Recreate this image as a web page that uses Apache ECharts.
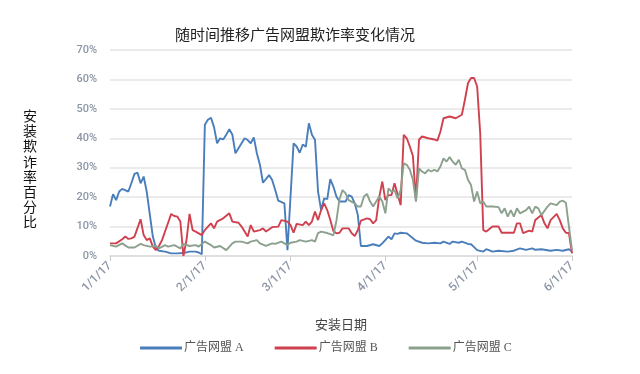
<!DOCTYPE html>
<html><head><meta charset="utf-8">
<script src="https://cdn.jsdelivr.net/npm/echarts@6/dist/echarts.min.js"></script>
<style>html,body{margin:0;padding:0;background:#fff}#c{width:640px;height:374px}</style>
</head><body><div id="c"></div>
<script>
const seriesNames = ['广告网盟 A', '广告网盟 B', '广告网盟 C'];
const yTicks = [0, 10, 20, 30, 40, 50, 60, 70];
const daysA = [0,1,2,3,4,6,7,8,9,10,11,12,14,15,16,18,20,22,24,26,28,29,30,31,32,33,34,35,36,37,38,39,40,41,43,44,45,46,47,48,49,50,52,53,54,55,57,58,60,61,62,63,64,65,66,67,68,69,70,71,72,73,74,75,77,78,79,80,81,82,84,86,88,89,91,92,93,94,95,97,99,100,102,104,106,108,109,111,112,114,115,117,118,119,120,122,123,125,127,130,132,134,136,138,139,141,144,146,148,150,151];
const valsA = [16.8,21,19,21.9,22.8,21.9,24.8,27.9,28.3,24.7,27,21.9,6.6,2.7,1.8,1.5,0.9,0.9,1.0,1.5,1.5,1.2,0.6,44.6,46.3,47,43.8,38.3,40,39.6,41.2,43.1,41.2,34.9,38.3,40,39.4,38.3,40.3,34.9,31,24.9,27.5,25.8,22.4,18.8,17.9,2,38.3,37.2,35.1,37.9,37.1,45.1,41.2,39.5,21.9,15.6,19.6,19.3,26.1,23.6,20.2,18.5,18.5,20.7,20.2,17.9,13.9,3.4,3.4,4,3.4,4.3,6.6,5.7,7.7,7.5,7.9,7.7,6,5.2,4.5,4.3,4.5,4.3,4.9,4.1,4.9,4.5,4.9,4.1,4.0,3.0,2.0,1.5,2.3,1.5,1.8,1.5,1.8,2.6,2.1,2.6,2.1,2.3,1.8,2.1,1.8,2.3,1.5];
const daysB = [0,2,4,5,6,7,8,10,11,12,13,14,15,16,17,19,20,21,22,23,24,25,26,27,28,30,31,33,34,35,37,39,40,42,43,45,46,47,49,50,51,53,55,56,58,59,60,61,63,64,65,66,67,68,69,70,71,72,73,74,75,76,78,79,80,81,82,84,85,86,87,88,89,90,91,92,93,94,95,96,97,98,99,100,101,102,104,106,107,108,109,111,113,114,115,116,117,118,119,120,121,122,123,125,127,128,130,132,133,134,135,137,138,139,141,142,143,144,146,147,148,149,150,151];
const valsB = [4.3,4.3,5.7,6.6,5.8,6,6.6,12.5,7.1,5.4,6,3.2,2,3.4,5.4,11.3,14.3,13.6,13.4,11.7,0,5.4,14.3,8.8,8.3,7.1,8.8,11.1,9.4,11.7,12.8,14.5,11.7,11.3,10,6.6,10.5,8.3,8.8,9.4,8.3,9.8,10,12.2,11.7,10.5,7.9,10.9,10.5,11.7,10.5,11.7,15.1,12.2,15.6,17.9,15.6,12.2,8.5,7.7,7.9,9.4,9.4,7.7,6.8,8.8,12,12.8,12.5,11.1,12.2,20,25.3,19,20.7,20.7,24.7,21,17.3,41.2,40,37.2,34,19,39.5,40.6,40,39.6,39.2,42.3,46.8,47.4,46.8,47.4,48,53.1,58.7,60.5,60.5,57.6,41.7,8.8,8.3,10,10,7.9,7.9,7.9,11.1,11.1,7.8,8.6,8.3,12.2,13.9,11.1,9.4,12.2,14.3,12.2,9.4,7.9,7.8,0.9];
const daysC = [0,2,4,6,8,10,11,13,15,16,18,19,21,23,24,26,28,29,31,33,34,36,38,40,41,43,45,46,48,49,51,53,54,56,58,59,61,62,64,66,67,68,69,71,72,73,74,75,76,77,78,80,81,82,83,84,85,86,87,88,89,90,91,92,93,94,95,96,97,98,99,100,101,102,103,104,105,106,107,108,109,110,111,112,113,114,115,116,117,118,119,120,121,122,123,125,127,128,129,130,131,132,133,134,136,137,138,139,140,141,143,144,146,147,148,149,150,151];
const valsC = [3.7,3.2,4.3,2.9,2.9,4.1,3.7,3.2,3.4,2.6,3.7,3.2,3.7,2.6,4.1,3.4,3.7,3.2,4.9,3.7,2.9,3.4,2.0,4.3,4.9,4.9,4.3,4.9,5.4,4.3,3.4,4.3,4.1,4.9,3.7,4.5,4.9,5.4,4.9,5.4,4.9,7.8,8.3,7.8,7.4,7.0,12,19.3,22.4,21.3,19,17.9,16.8,16.8,20.2,21.1,18.5,16.8,18.5,20.2,18.5,14.5,23,21.9,22.4,19.6,22.4,31.5,31,29.3,25.9,18.5,29.8,28.7,28.1,29.3,28.7,29.3,28.7,30.4,33.2,32.1,33.6,32.1,31,32.7,29.8,29.3,25.9,24.1,18.5,21.9,17.9,18.5,16.8,16.8,16.6,14.5,16.2,13.4,15.6,13.4,16.2,14.5,15.6,16.8,14.5,16.8,16.2,13.9,16.8,17.9,17.3,18.5,18.8,18.1,10,2];
const colors = ['#4a7ebb', '#d0414f', '#8ca08e'];

function toPairs(days, vals) {
  return days.map((d, i) => [new Date(2017, 0, 1 + d).getTime(), vals[i]]);
}
const serif = "'Liberation Serif', 'Noto Sans CJK SC', serif";
const chart = echarts.init(document.getElementById('c'));
chart.setOption({
  animation: false,
  color: colors,
  title: {
    text: '随时间推移广告网盟欺诈率变化情况',
    left: 290, top: 22, textAlign: 'center',
    textStyle: { fontSize: 15, fontWeight: 'normal', color: '#222', fontFamily: "'Noto Sans CJK SC'" }
  },
  graphic: [{
    type: 'text', left: 23, top: 108,
    style: { text: '安装欺诈率百分比'.split('').join('\n'), fontSize: 14, lineHeight: 15.2, fill: '#111', fontFamily: "'Noto Sans CJK SC'" }
  }],
  legend: {
    data: seriesNames, left: 135, top: 337,
    icon: 'rect', itemWidth: 42, itemHeight: 3, itemGap: 31,
    textStyle: { fontSize: 12, color: '#555', fontFamily: serif, padding: [0, 0, 0, -3] }
  },
  grid: { left: 110, right: 68, top: 50, bottom: 118 },
  xAxis: {
    type: 'time',
    min: new Date(2017, 0, 1).getTime(),
    max: new Date(2017, 5, 1).getTime(),
    splitNumber: 5,
    name: '安装日期', nameLocation: 'middle', nameGap: 62,
    nameTextStyle: { fontSize: 13, color: '#444', fontFamily: "'Noto Sans CJK SC'" },
    axisLine: { lineStyle: { color: '#dcdcdc', width: 1.5 } },
    axisTick: { show: true, length: 5, lineStyle: { color: '#ccc' } },
    splitLine: { show: false },
    axisLabel: {
      rotate: 45, fontSize: 12, color: '#8c96a6', fontFamily: 'Roboto', fontWeight: 500, margin: 8,
      showMinLabel: true, showMaxLabel: true,
      formatter: function (v) { const d = new Date(v); return (d.getMonth() + 1) + '/' + d.getDate() + '/17'; }
    }
  },
  yAxis: {
    type: 'value', min: yTicks[0], max: yTicks[yTicks.length - 1], interval: 10,
    axisLine: { show: false }, axisTick: { show: false },
    splitLine: { lineStyle: { color: '#e4e4e4', width: 1.5 } },
    axisLabel: { formatter: '{value}%', fontSize: 11, color: '#8c96a6', fontFamily: 'Roboto', fontWeight: 500, margin: 13 }
  },
  series: [
    { name: seriesNames[0], type: 'line', data: toPairs(daysA, valsA), showSymbol: false, lineStyle: { width: 1.9 } },
    { name: seriesNames[1], type: 'line', data: toPairs(daysB, valsB), showSymbol: false, lineStyle: { width: 1.9 } },
    { name: seriesNames[2], type: 'line', data: toPairs(daysC, valsC), showSymbol: false, lineStyle: { width: 1.9 } }
  ]
});
</script></body></html>
